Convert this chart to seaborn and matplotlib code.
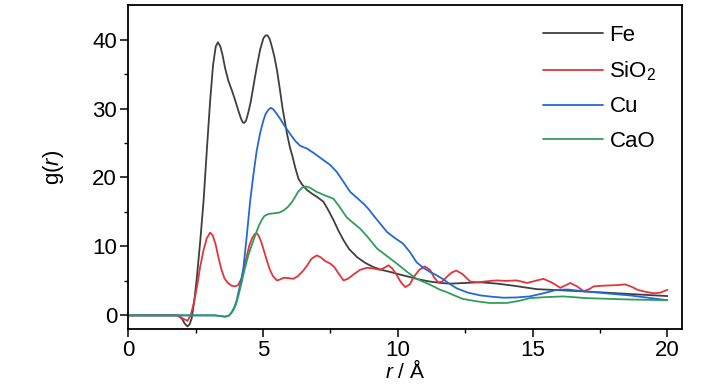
import numpy as np
import pandas as pd
import matplotlib
matplotlib.use("Agg")
import matplotlib.pyplot as plt
import seaborn as sns

# 各曲線の値
fe_r = [0, 1.5, 1.86, 2.0, 2.1, 2.2, 2.28, 2.36, 2.45, 2.55, 2.68, 2.8, 2.92, 3.04, 3.15,
        3.25, 3.33, 3.42, 3.5, 3.6, 3.72, 3.85, 3.97, 4.08, 4.18, 4.25, 4.3, 4.37, 4.45,
        4.55, 4.65, 4.77, 4.9, 5.02, 5.1, 5.17, 5.25, 5.33, 5.42, 5.52, 5.62, 5.73, 5.89,
        6.0, 6.1, 6.2, 6.32, 6.45, 6.63, 6.8, 7.0, 7.24, 7.42, 7.62, 7.8, 7.99, 8.2, 8.49,
        8.8, 9.1, 9.4, 9.72, 10.1, 10.46, 10.8, 11.2, 11.6, 11.95, 12.5, 13.06, 13.7, 14.3,
        15.16, 16.0, 16.77, 17.7, 18.6, 19.3, 20.0]
fe_g = [0, 0, 0, -0.5, -1.2, -1.6, -1.3, -0.4, 2.0, 5.5, 11.0, 16.7, 24.0, 31.0, 36.3,
        39.0, 39.6, 39.0, 37.8, 35.8, 34.0, 32.6, 31.2, 29.8, 28.6, 28.0, 27.9, 28.2, 29.3,
        31.0, 33.3, 36.0, 38.6, 40.2, 40.6, 40.6, 40.1, 39.0, 37.6, 35.6, 33.0, 30.0, 26.4,
        24.4, 23.0, 21.4, 19.8, 19.0, 18.2, 17.7, 17.2, 16.5, 15.3, 13.8, 12.3, 10.9, 9.6,
        8.45, 7.6, 7.0, 6.6, 6.3, 5.9, 5.55, 5.2, 4.9, 4.7, 4.6, 4.7, 4.8, 4.6, 4.3,
        3.8, 3.65, 3.5, 3.3, 3.1, 2.95, 2.8]

sio2_r = [0, 1.8, 2.05, 2.2, 2.32, 2.45, 2.57, 2.67, 2.8, 2.92, 3.04, 3.14, 3.25, 3.35, 3.45,
          3.57, 3.7, 3.84, 3.97, 4.08, 4.2, 4.3, 4.4, 4.5, 4.6, 4.7, 4.77, 4.85, 4.95, 5.05,
          5.15, 5.25, 5.37, 5.52, 5.64, 5.77, 5.95, 6.13, 6.3, 6.5, 6.65, 6.8, 7.0, 7.15,
          7.3, 7.5, 7.65, 7.8, 7.99, 8.15, 8.35, 8.6, 8.86, 9.1, 9.35, 9.5, 9.66, 9.8, 9.97,
          10.12, 10.28, 10.45, 10.6, 10.8, 11.0, 11.2, 11.35, 11.5, 11.65, 11.85, 12.0, 12.17,
          12.4, 12.69, 13.0, 13.2, 13.45, 13.68, 14.0, 14.4, 14.6, 14.8, 15.1, 15.4, 15.7,
          16.03, 16.2, 16.4, 16.65, 16.9, 17.1, 17.27, 17.6, 17.9, 18.2, 18.44, 18.7, 18.9,
          19.2, 19.5, 19.75, 20.0]
sio2_g = [0, 0, -0.5, -0.8, 0.0, 2.0, 4.5, 7.0, 9.5, 11.2, 12.0, 11.6, 10.2, 8.4, 6.8,
          5.4, 4.7, 4.3, 4.2, 4.4, 5.3, 6.8, 8.6, 10.2, 11.2, 11.8, 11.9, 11.5, 10.5, 9.2,
          7.9, 6.7, 5.7, 5.07, 5.2, 5.45, 5.4, 5.3, 5.7, 6.5, 7.3, 8.2, 8.7, 8.4,
          7.9, 7.5, 7.0, 6.1, 5.07, 5.3, 5.9, 6.6, 6.9, 6.8, 6.6, 6.9, 7.25, 6.8, 5.8,
          4.8, 4.1, 4.5, 5.6, 6.6, 7.1, 6.6, 5.5, 4.8, 4.9, 5.7, 6.2, 6.5,
          6.0, 4.9, 4.8, 4.9, 5.0, 5.07, 5.0, 5.07, 4.9, 4.7, 5.0, 5.3, 4.8,
          4.0, 4.3, 4.7, 4.2, 3.5, 3.8, 4.2, 4.3, 4.35, 4.4, 4.5, 4.1, 3.7,
          3.4, 3.2, 3.3, 3.7]

cu_r = [0, 3.2, 3.45, 3.6, 3.75, 3.85, 3.95, 4.03, 4.1, 4.2, 4.28, 4.4, 4.53, 4.65, 4.77,
        4.9, 5.02, 5.1, 5.2, 5.29, 5.38, 5.5, 5.64, 5.8, 6.01, 6.2, 6.38, 6.5, 6.63, 6.9,
        7.25, 7.5, 7.74, 8.0, 8.24, 8.5, 8.73, 8.9, 9.1, 9.35, 9.6, 9.9, 10.2, 10.45, 10.7,
        10.95, 11.2, 11.45, 11.7, 11.95, 12.2, 12.6, 13.06, 13.5, 13.93, 14.4, 14.9, 15.4,
        15.9, 16.3, 16.65, 17.3, 18.0, 18.6, 19.1, 19.6, 20.0]
cu_g = [0, 0, -0.1, -0.2, 0.0, 0.5, 1.3, 2.2, 3.5, 5.2, 7.0, 11.5, 16.7, 20.5, 23.9,
        26.5, 28.3, 29.2, 29.8, 30.1, 29.9, 29.3, 28.5, 27.5, 26.3, 25.3, 24.6, 24.4, 24.2, 23.5,
        22.5, 21.8, 20.8, 19.3, 17.9, 17.0, 16.2, 15.5, 14.5, 13.3, 12.1, 11.2, 10.4, 9.2, 7.7,
        6.9, 6.3, 5.8, 5.2, 4.5, 3.9, 3.3, 2.9, 2.7, 2.56, 2.6, 2.75, 3.2,
        3.7, 3.75, 3.6, 3.35, 3.1, 2.9, 2.65, 2.4, 2.2]

cao_r = [0, 3.2, 3.45, 3.6, 3.75, 3.9, 4.0, 4.1, 4.2, 4.28, 4.37, 4.45, 4.55, 4.65, 4.75,
         4.85, 4.95, 5.05, 5.2, 5.4, 5.6, 5.76, 5.92, 6.07, 6.2, 6.3, 6.45, 6.6, 6.75, 7.0,
         7.3, 7.62, 7.85, 8.11, 8.35, 8.6, 8.9, 9.23, 9.6, 9.97, 10.35, 10.7, 11.2, 11.58,
         11.8, 12.1, 12.4, 12.9, 13.4, 14.05, 14.5, 14.9, 15.5, 16.15, 17.0, 17.8, 18.6,
         19.3, 20.0]
cao_g = [0, 0, -0.1, -0.2, 0.0, 0.7, 1.6, 3.0, 4.6, 6.0, 7.4, 8.6, 9.8, 10.9, 12.0,
         13.0, 13.8, 14.4, 14.7, 14.8, 14.9, 15.2, 15.7, 16.4, 17.2, 17.9, 18.5, 18.7, 18.5, 17.9,
         17.4, 16.9, 15.7, 14.2, 13.4, 12.6, 11.3, 9.7, 8.6, 7.5, 6.3, 5.3, 4.45, 3.7,
         3.4, 2.9, 2.4, 2.05, 1.8, 1.8, 2.1, 2.5, 2.65, 2.75, 2.5, 2.4, 2.3,
         2.25, 2.2]

names = ["Fe", "SiO$_2$", "Cu", "CaO"]
colors = ["#3f3f3f", "#e2343c", "#2369d4", "#2f9d5c"]

df = pd.concat([
    pd.DataFrame({"r": fe_r, "g": fe_g, "sample": names[0]}),
    pd.DataFrame({"r": sio2_r, "g": sio2_g, "sample": names[1]}),
    pd.DataFrame({"r": cu_r, "g": cu_g, "sample": names[2]}),
    pd.DataFrame({"r": cao_r, "g": cao_g, "sample": names[3]}),
])

sns.set_theme(style="ticks")
plt.rcParams["font.family"] = ["Liberation Sans", "DejaVu Sans"]
plt.rcParams["mathtext.fontset"] = "custom"
plt.rcParams["mathtext.rm"] = "Liberation Sans"
plt.rcParams["mathtext.it"] = "Liberation Sans:italic"
for k in ["text.color", "axes.labelcolor", "xtick.color", "ytick.color", "axes.edgecolor"]:
    plt.rcParams[k] = "black"

fig = plt.figure(figsize=(7.28, 3.9), dpi=100)
ax = fig.add_axes([0.176, 0.156, 0.761, 0.831])

sns.lineplot(data=df, x="r", y="g", hue="sample", palette=colors, estimator=None,
             sort=False, linewidth=1.3, ax=ax, legend=False)

ax.set_xlim(0, 20.55)
ax.set_ylim(-2, 45)
ax.set_xticks([0, 5, 10, 15, 20])
ax.set_xticks([2.5, 7.5, 12.5, 17.5], minor=True)
ax.set_yticks([0, 10, 20, 30, 40])
ax.set_yticks([5, 15, 25, 35], minor=True)
ax.tick_params(which="major", direction="out", length=6, width=1.1, labelsize=16, pad=2)
ax.tick_params(which="minor", direction="out", length=3, width=1.0)
for s in ax.spines.values():
    s.set_visible(True)
    s.set_linewidth(1.3)

ax.set_xlabel("$\\it{r}$ / Å", fontsize=15)
ax.xaxis.set_label_coords(0.5, -0.093)
ax.set_ylabel("g($\\it{r}$)", fontsize=16, labelpad=19)

handles = [plt.Line2D([], [], color=c, linewidth=1.3) for c in colors]
ax.legend(handles, names, loc="upper right", bbox_to_anchor=(0.99, 1.0), frameon=False,
          fontsize=16, handlelength=2.7, handletextpad=0.3, labelspacing=0.6)

fig.savefig("out.png", dpi=100)
